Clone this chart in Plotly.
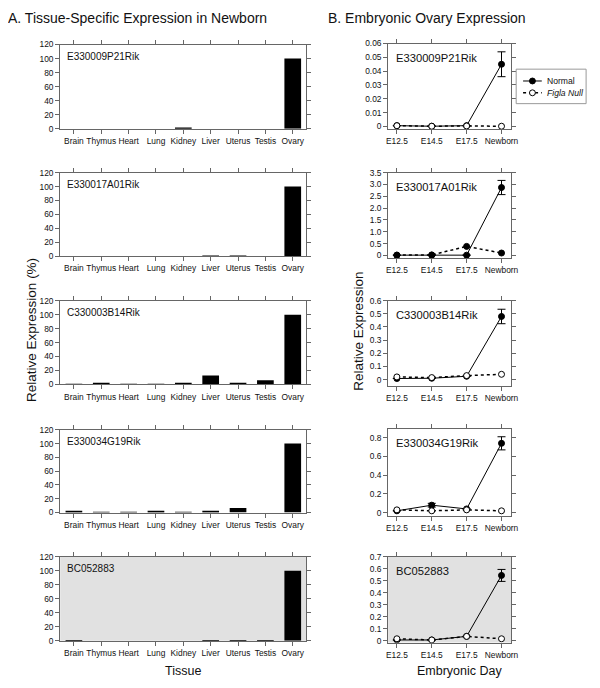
import plotly.graph_objects as go

# ---------------- data ----------------
tissues = ["Brain", "Thymus", "Heart", "Lung", "Kidney", "Liver", "Uterus", "Testis", "Ovary"]
genes = ["E330009P21Rik", "E330017A01Rik", "C330003B14Rik", "E330034G19Rik", "BC052883"]

tissue_E330009P21Rik = [0, 0, 0, 0, 1.0, 0, 0, 0, 100]
tissue_E330017A01Rik = [0, 0, 0, 0, 0, 0.3, 0.8, 0, 100]
tissue_C330003B14Rik = [0.5, 2.0, 0.3, 0.5, 2.0, 13.0, 1.5, 6.0, 100]
tissue_E330034G19Rik = [1.5, 0.3, 0.3, 1.5, 1.0, 2.5, 6.5, 0, 100]
tissue_BC052883 = [0.3, 0, 0, 0, 0, 0.8, 0.8, 0.3, 100]

days = ["E12.5", "E14.5", "E17.5", "Newborn"]

normal_E330009P21Rik = [0.0005, 0.0001, 0.0005, 0.045]
normal_err_E330009P21Rik = [None, None, None, 0.009]
null_E330009P21Rik = [0.0005, 0.0001, 0.0003, 0.0001]

normal_E330017A01Rik = [0.01, 0.01, 0.01, 2.87]
normal_err_E330017A01Rik = [None, None, None, 0.3]
null_E330017A01Rik = [0.01, 0.02, 0.38, 0.10]

normal_C330003B14Rik = [0.008, 0.01, 0.025, 0.48]
normal_err_C330003B14Rik = [None, None, None, 0.055]
null_C330003B14Rik = [0.02, 0.015, 0.03, 0.04]

normal_E330034G19Rik = [0.02, 0.08, 0.04, 0.74]
normal_err_E330034G19Rik = [None, 0.02, None, 0.07]
null_E330034G19Rik = [0.03, 0.02, 0.03, 0.02]

normal_BC052883 = [0.005, 0.005, 0.035, 0.545]
normal_err_BC052883 = [None, None, None, 0.05]
null_BC052883 = [0.015, 0.005, 0.035, 0.015]

legend_labels = ["Normal", "<i>Figla Null</i>"]

left_ticks = [0, 20, 40, 60, 80, 100, 120]
right_tickvals = [
    [0, 0.01, 0.02, 0.03, 0.04, 0.05, 0.06],
    [0, 0.5, 1.0, 1.5, 2.0, 2.5, 3.0, 3.5],
    [0, 0.1, 0.2, 0.3, 0.4, 0.5, 0.6],
    [0, 0.2, 0.4, 0.6, 0.8],
    [0, 0.1, 0.2, 0.3, 0.4, 0.5, 0.6, 0.7],
]
right_ticktext = [
    ["0", "0.01", "0.02", "0.03", "0.04", "0.05", "0.06"],
    ["0", "0.5", "1.0", "1.5", "2.0", "2.5", "3.0", "3.5"],
    ["0", "0.1", "0.2", "0.3", "0.4", "0.5", "0.6"],
    ["0", "0.2", "0.4", "0.6", "0.8"],
    ["0", "0.1", "0.2", "0.3", "0.4", "0.5", "0.6", "0.7"],
]

tissue_values = [tissue_E330009P21Rik, tissue_E330017A01Rik, tissue_C330003B14Rik,
                 tissue_E330034G19Rik, tissue_BC052883]
normal_values = [normal_E330009P21Rik, normal_E330017A01Rik, normal_C330003B14Rik,
                 normal_E330034G19Rik, normal_BC052883]
normal_errors = [normal_err_E330009P21Rik, normal_err_E330017A01Rik, normal_err_C330003B14Rik,
                 normal_err_E330034G19Rik, normal_err_BC052883]
null_values = [null_E330009P21Rik, null_E330017A01Rik, null_C330003B14Rik,
               null_E330034G19Rik, null_BC052883]

# ---------------- layout geometry ----------------
# the page body has an 8px margin, so the figure is 592x680 placed at (8, 8)
OFF = 8
W, H = 600 - OFF, 688 - OFF
FONT = "Liberation Sans, Arial, sans-serif"


def px(x):
    return (x - OFF) / W


def py(y):
    return 1 - (y - OFF) / H


left_rows = [(40, 125.5), (170, 255), (300, 385), (431, 515), (560, 645)]
right_rows = [(39, 126), (170, 257), (300, 386.7), (430, 518), (560, 647)]
right_ranges = [[-0.0021, 0.06], [-0.125, 3.5], [-0.05, 0.6], [-0.03, 0.895], [-0.017, 0.7]]
null_fill = ["white", "black", "white", "white", "white"]


def ydom(top, bottom):
    return [py(bottom), py(top)]


LX = [px(59), px(309)]
RX = [px(392), px(517)]

fig = go.Figure()
layout = dict(
    width=W, height=H, autosize=False,
    margin=dict(l=0, r=0, t=0, b=0),
    paper_bgcolor="white", plot_bgcolor="rgba(0,0,0,0)",
    font=dict(family=FONT, color="#111", size=9),
    bargap=0.39,
    showlegend=False,
)

axis_common = dict(
    showline=True, linecolor="#666", linewidth=1, mirror="ticks",
    ticks="outside", ticklen=4, tickcolor="#666", tickwidth=1,
    showgrid=False, zeroline=False, tickangle=0,
    tickfont=dict(family=FONT, size=8.4, color="#111"),
)

annotations = []
shapes = []

for i in range(5):
    li = 2 * i + 1
    ri = 2 * i + 2
    lx = "x" if li == 1 else f"x{li}"
    ly = "y" if li == 1 else f"y{li}"
    rx = f"x{ri}"
    ry = f"y{ri}"

    # left bar chart
    fig.add_trace(go.Bar(
        x=tissues, y=tissue_values[i], xaxis=lx, yaxis=ly,
        marker=dict(color="black", line=dict(width=0)), showlegend=False,
    ))
    layout["xaxis" if li == 1 else f"xaxis{li}"] = dict(
        axis_common, domain=LX, anchor=ly, range=[-0.5, 8.5], type="category",
    )
    layout["yaxis" if li == 1 else f"yaxis{li}"] = dict(
        axis_common, domain=ydom(*left_rows[i]), anchor=lx, range=[0, 120],
        tickvals=left_ticks,
    )

    # right line chart
    fig.add_trace(go.Scatter(
        x=days, y=normal_values[i], xaxis=rx, yaxis=ry, mode="lines+markers",
        line=dict(color="black", width=1),
        marker=dict(symbol="circle", size=6, color="black", line=dict(color="black", width=1)),
        error_y=dict(type="data", array=normal_errors[i], visible=True,
                     color="black", thickness=1, width=4),
        name=legend_labels[0],
    ))
    fig.add_trace(go.Scatter(
        x=days, y=null_values[i], xaxis=rx, yaxis=ry, mode="lines+markers",
        line=dict(color="black", width=1.5, dash="dot"),
        marker=dict(symbol="circle", size=6, color=null_fill[i], line=dict(color="black", width=1)),
        name=legend_labels[1],
    ))
    layout[f"xaxis{ri}"] = dict(
        axis_common, domain=RX, anchor=ry, range=[-0.25, 3.28], type="category",
    )
    layout[f"yaxis{ri}"] = dict(
        axis_common, domain=ydom(*right_rows[i]), anchor=rx, range=right_ranges[i],
        tickvals=right_tickvals[i], ticktext=right_ticktext[i],
    )

    # gene labels
    annotations.append(dict(
        text=genes[i], xref=f"{lx} domain", yref=f"{ly} domain",
        x=0.02, y=0.95, xanchor="left", yanchor="top", showarrow=False,
        font=dict(family=FONT, size=10, color="#111"),
    ))
    annotations.append(dict(
        text=genes[i], xref=f"{rx} domain", yref=f"{ry} domain",
        x=0.045, y=0.93, xanchor="left", yanchor="top", showarrow=False,
        font=dict(family=FONT, size=11.2, color="#111"),
    ))

# grey background for last row
for ax, yy in [("x9", "y9"), ("x10", "y10")]:
    shapes.append(dict(
        type="rect", xref=f"{ax} domain", yref=f"{yy} domain",
        x0=0, x1=1, y0=0, y1=1, fillcolor="#e1e1e1", line=dict(width=0), layer="below",
    ))

# hand-drawn legend box (Normal / Figla Null)
shapes += [
    dict(type="rect", xref="paper", yref="paper", x0=px(522), x1=px(593), y0=py(100), y1=py(65),
         line=dict(color="#999", width=1), fillcolor="white"),
    dict(type="line", xref="paper", yref="paper", x0=px(529), x1=px(548), y0=py(77), y1=py(77),
         line=dict(color="black", width=1)),
    dict(type="line", xref="paper", yref="paper", x0=px(529), x1=px(548), y0=py(89), y1=py(89),
         line=dict(color="black", width=1.5, dash="dot")),
    dict(type="circle", xref="paper", yref="paper", x0=px(535.5), x1=px(541.5),
         y0=py(80), y1=py(74), fillcolor="black", line=dict(color="black", width=1)),
    dict(type="circle", xref="paper", yref="paper", x0=px(535.5), x1=px(541.5),
         y0=py(92), y1=py(86), fillcolor="white", line=dict(color="black", width=1)),
]
for lbl, yy in zip(legend_labels, [77, 89]):
    annotations.append(dict(
        text=lbl, xref="paper", yref="paper", x=px(551), y=py(yy),
        xanchor="left", yanchor="middle", showarrow=False,
        font=dict(family=FONT, size=8.6, color="#111"),
    ))

# panel titles and axis titles
annotations += [
    dict(text="A. Tissue-Specific Expression in Newborn", xref="paper", yref="paper",
         x=px(4), y=py(13), xanchor="left", yanchor="middle", showarrow=False,
         font=dict(family=FONT, size=14, color="#111")),
    dict(text="B. Embryonic Ovary Expression", xref="paper", yref="paper",
         x=px(329), y=py(13), xanchor="left", yanchor="middle", showarrow=False,
         font=dict(family=FONT, size=14, color="#111")),
    dict(text="Relative Expression (%)", xref="paper", yref="paper",
         x=px(30), y=py(330), xanchor="center", yanchor="middle", showarrow=False,
         textangle=-90, font=dict(family=FONT, size=13.5, color="#111")),
    dict(text="Relative Expression", xref="paper", yref="paper",
         x=px(362), y=py(331), xanchor="center", yanchor="middle", showarrow=False,
         textangle=-90, font=dict(family=FONT, size=13.5, color="#111")),
    dict(text="Tissue", xref="paper", yref="paper",
         x=px(184), y=py(676), xanchor="center", yanchor="middle", showarrow=False,
         font=dict(family=FONT, size=12.5, color="#111")),
    dict(text="Embryonic Day", xref="paper", yref="paper",
         x=px(464), y=py(676), xanchor="center", yanchor="middle", showarrow=False,
         font=dict(family=FONT, size=12.5, color="#111")),
]

layout["annotations"] = annotations
layout["shapes"] = shapes

fig.update_layout(**layout)
fig.write_html("out.html")
